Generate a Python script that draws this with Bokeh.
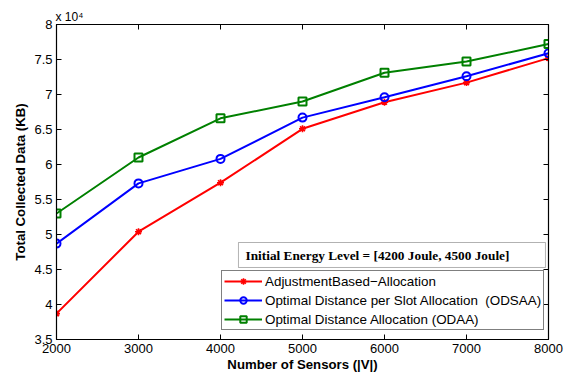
from bokeh.plotting import figure
from bokeh.models import (Range1d, LinearAxis, FixedTicker, CustomJSTickFormatter,
                          Label, BoxAnnotation, Legend)
from bokeh.embed import file_html
from bokeh.resources import INLINE

# ---- data ----
sensors = [2000, 3000, 4000, 5000, 6000, 7000, 8000]
adjustment_based = [38700, 50400, 57400, 65100, 68900, 71700, 75200]
odsaa = [48700, 57300, 60800, 66700, 69600, 72600, 75900]
odaa = [53000, 61000, 66600, 69000, 73100, 74700, 77200]
x_ticks = [2000, 3000, 4000, 5000, 6000, 7000, 8000]
y_ticks = [35000, 40000, 45000, 50000, 55000, 60000, 65000, 70000, 75000, 80000]
series_names = ["AdjustmentBased\u2212Allocation",
                "Optimal Distance per Slot Allocation  (ODSAA)",
                "Optimal Distance Allocation (ODAA)"]
note_text = "Initial Energy Level = [4200 Joule, 4500 Joule]"
scale_text = "x 10\u2074"

FONT = "Liberation Sans"
SERIF = "Liberation Serif"

p = figure(width=586, height=377, output_backend="svg", toolbar_location=None,
           x_range=Range1d(2000, 8000), y_range=Range1d(35000, 80000),
           min_border_left=56, min_border_right=38, min_border_top=24,
           min_border_bottom=38)
p.background_fill_color = "white"
p.border_fill_color = "white"
p.outline_line_color = "black"
p.outline_line_width = 1
p.grid.visible = False

p.title.text = scale_text
p.title.align = "left"
p.title.offset = -1
p.title.standoff = 1
p.title.text_font = FONT
p.title.text_font_size = "12px"
p.title.text_font_style = "normal"
p.title.text_color = "black"

bottom_ax = p.xaxis[0]
left_ax = p.yaxis[0]
bottom_ax.axis_label = "Number of Sensors (|V|)"
left_ax.axis_label = "Total Collected Data (KB)"
left_ax.formatter = CustomJSTickFormatter(code="return (tick/1e4).toString();")

top_ax = LinearAxis(formatter=CustomJSTickFormatter(code="return '';"))
right_ax = LinearAxis(formatter=CustomJSTickFormatter(code="return '';"))
p.add_layout(top_ax, "above")
p.add_layout(right_ax, "right")

for ax in [bottom_ax, top_ax]:
    ax.ticker = FixedTicker(ticks=x_ticks)
for ax in [left_ax, right_ax]:
    ax.ticker = FixedTicker(ticks=y_ticks)

for ax in [bottom_ax, left_ax, top_ax, right_ax]:
    ax.major_tick_in = 5
    ax.major_tick_out = 0
    ax.minor_tick_line_color = None
    ax.axis_line_color = "black"
    ax.axis_line_width = 1.2
    ax.major_tick_line_color = "black"
    ax.major_label_text_font = FONT
    ax.major_label_text_font_size = "13px"
    ax.major_label_text_color = "black"
    ax.axis_label_text_font = FONT
    ax.axis_label_text_font_size = "13.2px"
    ax.axis_label_text_font_style = "bold"
    ax.axis_label_text_color = "black"

for ax in [top_ax, right_ax]:
    ax.major_label_standoff = 0

bottom_ax.major_label_standoff = 4
bottom_ax.axis_label_standoff = 1
left_ax.major_label_standoff = 4
left_ax.axis_label_standoff = 3

colors = ["#ff0000", "#0000ff", "#008000"]
markers = ["asterisk", "circle", "square"]
sizes = [7, 8, 8]
widths = [1.6, 2, 2]
items = []
for ys, name, c, m, s, w in zip([adjustment_based, odsaa, odaa], series_names, colors,
                                markers, sizes, widths):
    r1 = p.line(sensors, ys, line_color=c, line_width=2)
    r2 = p.scatter(sensors, ys, marker=m, size=s, line_color=c, fill_color=None, line_width=w)
    items.append((name, [r1, r2]))

legend = Legend(items=items, location=(165, 9))
legend.label_text_font = FONT
legend.label_text_font_size = "13.4px"
legend.label_text_color = "black"
legend.glyph_width = 38
legend.glyph_height = 16
legend.label_height = 16
legend.label_standoff = 3
legend.spacing = 3
legend.padding = 2
legend.margin = 0
legend.border_line_color = "black"
legend.border_line_width = 1
legend.background_fill_color = "white"
legend.background_fill_alpha = 1
p.add_layout(legend, "center")

box = BoxAnnotation(left=4219, right=7963, top=48857, bottom=45286,
                    fill_color="white", fill_alpha=1, line_color="black",
                    line_width=1, level="overlay")
p.add_layout(box)
p.add_layout(Label(x=4305, y=47071, text=note_text, text_font=SERIF,
                   text_font_size="13.3px", text_font_style="bold",
                   text_baseline="middle", text_color="black", level="overlay"))

open("out.html", "w").write(file_html(p, INLINE))
